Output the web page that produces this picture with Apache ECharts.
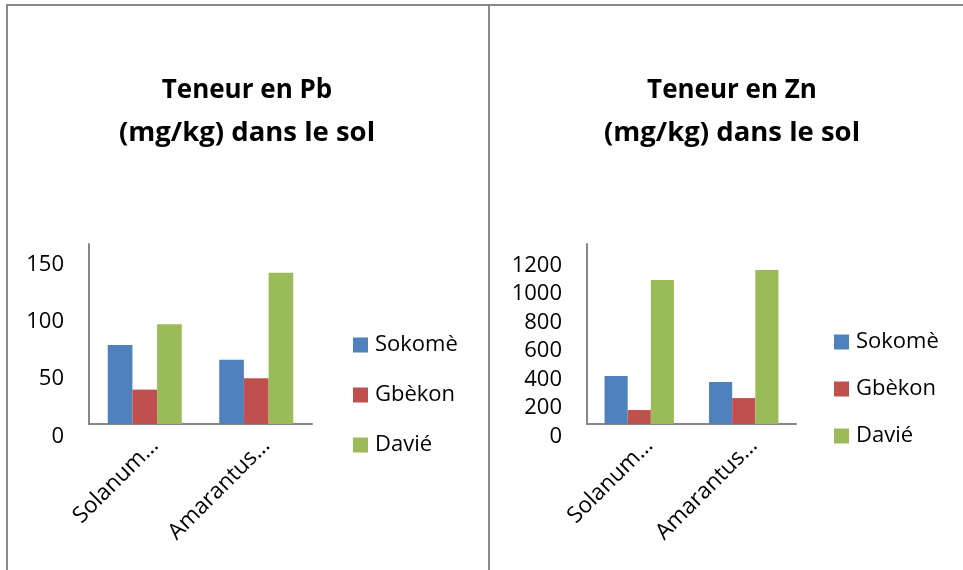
<!DOCTYPE html>
<html>
<head>
<meta charset="utf-8">
<script src="https://cdn.jsdelivr.net/npm/echarts@6/dist/echarts.min.js"></script>
<style>
  html, body { margin: 0; padding: 0; background: #fff; }
  #wrap { position: relative; width: 963px; height: 570px; overflow: hidden; }
  #chart { position: absolute; left: 0; top: 0; width: 963px; height: 570px; }
  .bd { position: absolute; background: #888; }
</style>
</head>
<body>
<div id="wrap">
  <div class="bd" style="left:6px;top:4px;width:957px;height:2px;"></div>
  <div class="bd" style="left:6px;top:4px;width:2px;height:566px;"></div>
  <div class="bd" style="left:488px;top:4px;width:2px;height:566px;"></div>
  <div id="chart"></div>
</div>
<script>
// ---- Data ----
const categories = ['Solanum…', 'Amarantus…'];
const seriesNames = ['Sokomè', 'Gbèkon', 'Davié'];
const pbSokome = [69, 56];
const pbGbekon = [30, 40];
const pbDavie = [87, 132];
const znSokome = [337, 295];
const znGbekon = [98, 182];
const znDavie = [1011, 1081];
const pbTickLabels = [0, 50, 100, 150];
const znTickLabels = [0, 200, 400, 600, 800, 1000, 1200];
const titlePbLines = ['Teneur en Pb', '(mg/kg) dans le sol'];
const titleZnLines = ['Teneur en Zn', '(mg/kg) dans le sol'];

// ---- Styles ----
const FONT = "'Open Sans', sans-serif";
const colors = ['#4F81BD', '#C0504D', '#9BBB59'];
const axisColor = '#878787';

const chart = echarts.init(document.getElementById('chart'), null, { renderer: 'canvas' });

function yAxisFor(gridIndex, max, interval, ticks) {
  return {
    type: 'value', gridIndex: gridIndex, min: 0, max: max, interval: interval,
    axisLine: { show: true, lineStyle: { color: axisColor, width: 2 } },
    axisTick: { show: false },
    splitLine: { show: false },
    axisLabel: {
      show: true, color: '#000', fontSize: 22, fontFamily: FONT, margin: 25,
      verticalAlign: 'top', lineHeight: 25,
      formatter: function (v) { return ticks.indexOf(v) >= 0 ? String(v) : ''; }
    }
  };
}
function hiddenY(gridIndex, max) {
  return { type: 'value', gridIndex: gridIndex, min: 0, max: max, show: false };
}
function xAxisBars(gridIndex) {
  return {
    type: 'category', gridIndex: gridIndex, data: categories,
    axisLine: { show: true, lineStyle: { color: axisColor, width: 2 } },
    axisTick: { show: false },
    axisLabel: { show: false }
  };
}
function xAxisLabels(gridIndex) {
  return {
    type: 'category', gridIndex: gridIndex, data: categories,
    axisLine: { show: false }, axisTick: { show: false },
    axisLabel: { show: true, rotate: 45, interval: 0, margin: 18, color: '#000', fontSize: 22.5, fontFamily: FONT }
  };
}

const pbData = [pbSokome, pbGbekon, pbDavie];
const znData = [znSokome, znGbekon, znDavie];
const series = [];
seriesNames.forEach(function (name, i) {
  series.push({ name: name, type: 'bar', xAxisIndex: 0, yAxisIndex: 0, data: pbData[i],
    barGap: '0%', barCategoryGap: '33.6%', itemStyle: { color: colors[i] } });
});
seriesNames.forEach(function (name, i) {
  series.push({ name: name, type: 'bar', xAxisIndex: 2, yAxisIndex: 2, data: znData[i],
    barGap: '0%', barCategoryGap: '33.6%', itemStyle: { color: colors[i] } });
});

const legendBase = {
  orient: 'vertical', icon: 'rect', itemWidth: 15, itemHeight: 15, padding: 0,
  data: seriesNames, selectedMode: false,
  textStyle: { color: '#000', fontSize: 22, fontFamily: FONT, lineHeight: 22, padding: [0, 0, 0, 2] }
};

const titleRich = {
  a: { fontSize: 26, fontWeight: 'bold', fontFamily: FONT, color: '#000', lineHeight: 43 },
  b: { fontSize: 27.5, fontWeight: 'bold', fontFamily: FONT, color: '#000', lineHeight: 43 }
};
function titleText(lines) { return '{a|' + lines[0] + '}\n{b|' + lines[1] + '}'; }

chart.setOption({
  backgroundColor: 'transparent',
  animation: false,
  title: [
    { text: titleText(titlePbLines), left: 247, top: 69, padding: 0, textAlign: 'center',
      textStyle: { rich: titleRich, fontSize: 26, fontWeight: 'bold', fontFamily: FONT, color: '#000', lineHeight: 43 } },
    { text: titleText(titleZnLines), left: 732, top: 69, padding: 0, textAlign: 'center',
      textStyle: { rich: titleRich, fontSize: 26, fontWeight: 'bold', fontFamily: FONT, color: '#000', lineHeight: 43 } }
  ],
  legend: [
    Object.assign({}, legendBase, { left: 353, top: 334, itemGap: 28 }),
    Object.assign({}, legendBase, { left: 834, top: 331, itemGap: 25 })
  ],
  grid: [
    { left: 89, top: 244, width: 223, height: 180 },
    { left: 99, top: 244, width: 223, height: 180 },
    { left: 587, top: 244, width: 209, height: 180 },
    { left: 597, top: 244, width: 209, height: 180 }
  ],
  xAxis: [xAxisBars(0), xAxisLabels(1), xAxisBars(2), xAxisLabels(3)],
  yAxis: [
    yAxisFor(0, 157, 50, pbTickLabels), hiddenY(1, 157),
    yAxisFor(2, 1263, 200, znTickLabels), hiddenY(3, 1263)
  ],
  series: series
});
</script>
</body>
</html>
